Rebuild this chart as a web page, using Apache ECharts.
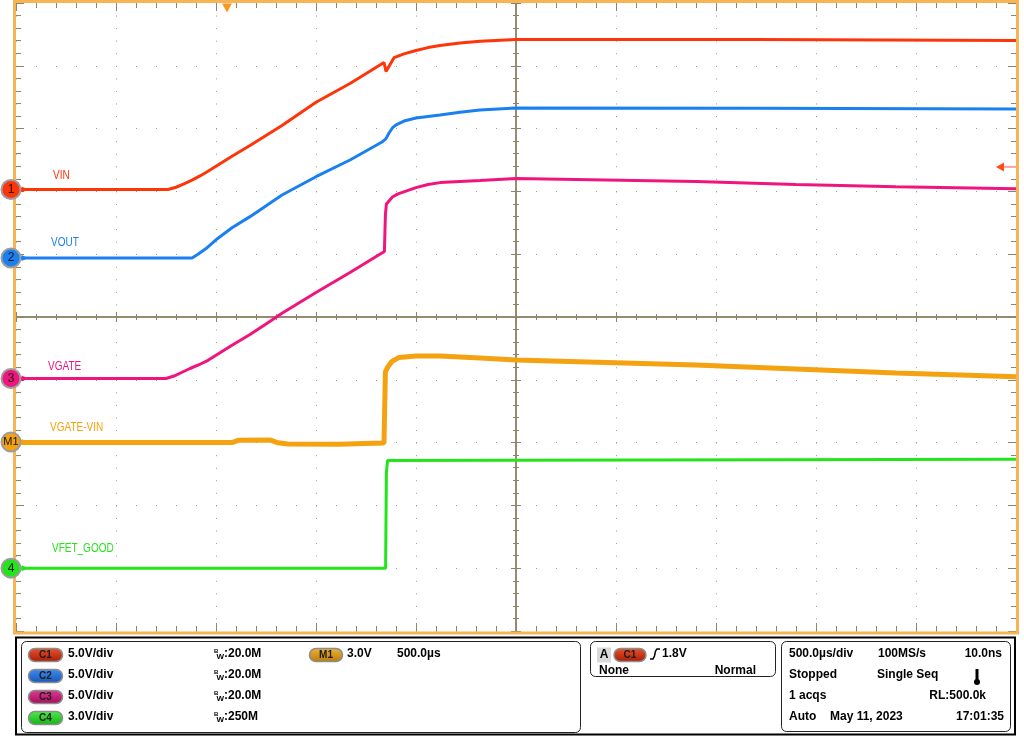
<!DOCTYPE html>
<html>
<head>
<meta charset="utf-8">
<title>Scope capture</title>
<script src="https://cdn.jsdelivr.net/npm/echarts@6/dist/echarts.min.js"></script>
<style>
  html, body { margin: 0; padding: 0; background: #fff; }
  #chart { width: 1024px; height: 736px; }
</style>
</head>
<body>
<div id="chart"></div>
<script>
// traces: [time in us from screen centre, volts]
const vinTrace = [
  [-2500, 0], [-1740, 0], [-1700, 0.18], [-1660, 0.45], [-1620, 0.75],
  [-1580, 1.08], [-1540, 1.45], [-1500, 1.85], [-1420, 2.65], [-1330, 3.5],
  [-1250, 4.3], [-1170, 5.09], [-1000, 6.95], [-830, 8.44], [-660, 10.11],
  [-650, 9.4], [-610, 10.5], [-560, 10.8], [-500, 11.07], [-440, 11.3],
  [-380, 11.46], [-280, 11.66], [-180, 11.8], [0, 11.94], [1200, 11.94], [2500, 11.86]
]
const voutTrace = [
  [-2500, 0], [-1620, 0], [-1590, 0.3], [-1550, 0.75], [-1500, 1.45],
  [-1420, 2.4], [-1330, 3.29], [-1170, 5.01], [-1000, 6.47], [-830, 7.8],
  [-670, 9.23], [-650, 9.5], [-635, 9.95], [-618, 10.35], [-600, 10.59],
  [-560, 10.9], [-500, 11.14], [-380, 11.38], [-280, 11.6], [-180, 11.78],
  [0, 11.94], [1200, 11.92], [2500, 11.86]
]
const vgateTrace = [
  [-2500, 0], [-1750, 0], [-1710, 0.2], [-1670, 0.5], [-1630, 0.8],
  [-1585, 1.1], [-1540, 1.45], [-1500, 1.85], [-1420, 2.65], [-1330, 3.5],
  [-1250, 4.35], [-1170, 5.2], [-1000, 6.85], [-830, 8.44], [-658, 10.11],
  [-653, 13.05], [-648, 13.9], [-618, 14.45], [-590, 14.7], [-500, 15.2],
  [-440, 15.45], [-380, 15.6], [-180, 15.76], [0, 15.92], [900, 15.68],
  [1400, 15.44], [1900, 15.28], [2500, 15.12]
]
const vgateVinTrace = [
  [-2500, -0.03], [-1420, -0.03], [-1390, 0.08], [-1230, 0.1], [-1190, -0.04],
  [-1140, -0.1], [-880, -0.11], [-760, -0.07], [-660, -0.05], [-653, 3.35],
  [-640, 3.6], [-620, 3.85], [-585, 4.04], [-500, 4.11], [-380, 4.11], [-180, 4.01],
  [0, 3.92], [900, 3.68], [1400, 3.49], [1900, 3.3], [2500, 3.11]
]
const vfetGoodTrace = [
  [-2500, 0], [-652, 0], [-648, 4.59], [-642, 5.15], [2500, 5.2]
]

// scope setup
const triggerTime = -1445   // us
const triggerLevel = 1.8    // V on C1

// scale: volts per division, offset: ground marker in divisions from centre
const channels = [
  { name: 'VIN', marker: '1', scale: 5, offset: 2.03, data: vinTrace, color: '#ff350a', width: 3 },
  { name: 'VOUT', marker: '2', scale: 5, offset: 0.94, data: voutTrace, color: '#1a80f0', width: 3 },
  { name: 'VGATE', marker: '3', scale: 5, offset: -0.98, data: vgateTrace, color: '#f0157d', width: 3 },
  { name: 'VGATE-VIN', marker: 'M1', scale: 3, offset: -1.99, data: vgateVinTrace, color: '#f5a210', width: 5 },
  { name: 'VFET_GOOD', marker: '4', scale: 3, offset: -4.0, data: vfetGoodTrace, color: '#22e61a', width: 3 }
]
// where the trace names sit on screen
const labelPos = [[53, 176], [51, 243], [48, 367], [50, 428], [52, 549]]

const tickColor = '#8f8468'
const dotColor = '#a39a82'
const FONT = '"Liberation Sans", Arial, sans-serif'

function toDiv(trace, scale, offset) {
  return trace.map(p => [p[0], offset + p[1] / scale])
}

function txt(x, y, s, o) {
  o = o || {}
  return {
    type: 'text', x: x, y: y, z: 20, silent: true,
    scaleY: o.scaleY || 1,
    style: {
      text: s, fill: o.color || '#000',
      font: (o.weight || 'bold') + ' ' + (o.size || 12) + 'px ' + FONT,
      textAlign: o.align || 'left', textVerticalAlign: 'middle',
      align: o.align || 'left', verticalAlign: 'middle'
    }
  }
}

function pill(x, y, w, h, c1, c2, label) {
  return [
    {
      type: 'rect', z: 20, silent: true,
      shape: { x: x, y: y, width: w, height: h, r: h / 2 },
      style: {
        fill: new echarts.graphic.LinearGradient(0, 0, 0, 1, [
          { offset: 0, color: c1 }, { offset: 1, color: c2 }
        ]),
        stroke: '#8d8d8d', lineWidth: 1.5
      }
    },
    txt(x + w / 2, y + h / 2 + 0.5, label, { size: 10, align: 'center', color: '#1c1c1c' })
  ]
}

function box(x, y, w, h) {
  return {
    type: 'rect', z: 20, silent: true,
    shape: { x: x, y: y, width: w, height: h, r: 5 },
    style: { fill: 'none', stroke: '#222', lineWidth: 1 }
  }
}

function bw(y, s) {
  return [txt(214, y - 3, 'B', { size: 6 }), txt(216.5, y + 3, 'W', { size: 8 }), txt(224, y, s)]
}

const chart = echarts.init(document.getElementById('chart'))

const xBase = { type: 'value', min: -2500, max: 2500, interval: 500, axisLabel: { show: false }, splitLine: { show: false } }
const yBase = { type: 'value', min: -5, max: 5, interval: 1, axisLabel: { show: false }, splitLine: { show: false } }
const edgeTick = { show: true, inside: true, length: 8, lineStyle: { color: tickColor, width: 1 } }
const edgeMinor = { show: true, splitNumber: 5, length: 5, lineStyle: { color: tickColor, width: 1 } }
const midTick = { show: true, inside: false, length: 5, lineStyle: { color: tickColor, width: 1 } }
const midMinor = { show: true, splitNumber: 5, length: 3, lineStyle: { color: tickColor, width: 1 } }
const midLine = { show: true, onZero: true, onZeroAxisIndex: 0, lineStyle: { color: tickColor, width: 1.5 } }

const series = channels.map((ch, i) => {
  const marks = [
    {
      coord: [-2500, ch.offset], symbol: 'circle', symbolSize: 19, symbolOffset: [-5, 0],
      itemStyle: { color: ch.color, borderColor: '#9c9c9c', borderWidth: 2 },
      label: { show: true, position: 'inside', formatter: ch.marker, color: '#151515', fontSize: ch.marker.length > 1 ? 11 : 12, fontFamily: FONT }
    },
    {
      coord: [-2500, ch.offset], symbol: 'triangle', symbolSize: [6, 7], symbolRotate: -90, symbolOffset: [9, 0],
      itemStyle: { color: ch.color }, label: { show: false }
    }
  ]
  if (i === 0) {
    const lvl = ch.offset + triggerLevel / ch.scale
    marks.push({
      coord: [2500, lvl], symbol: 'rect', symbolSize: [12, 2], symbolOffset: [-6, 0],
      itemStyle: { color: '#f8a898' }, label: { show: false }
    })
    marks.push({
      coord: [2500, lvl], symbol: 'triangle', symbolSize: [9, 8], symbolRotate: 90, symbolOffset: [-16, 0],
      itemStyle: { color: '#ff4a1a' }, label: { show: false }
    })
    marks.push({
      coord: [triggerTime, 5], symbol: 'triangle', symbolSize: [10, 9], symbolRotate: 180, symbolOffset: [0, 5],
      itemStyle: { color: '#f79a1c' }, label: { show: false }
    })
  }
  return {
    type: 'line', name: ch.name, xAxisIndex: 0, yAxisIndex: 0,
    data: toDiv(ch.data, ch.scale, ch.offset),
    symbol: 'none', silent: true,
    lineStyle: { color: ch.color, width: ch.width },
    itemStyle: { color: ch.color },
    markPoint: { silent: true, animation: false, data: marks }
  }
})

const graphics = []
// orange frame around the graticule
graphics.push({
  type: 'rect', z: 4, silent: true,
  shape: { x: 14.5, y: 1.5, width: 1003, height: 631.5 },
  style: { fill: 'none', stroke: '#f6b455', lineWidth: 3 }
})
channels.forEach((ch, i) => {
  graphics.push(txt(labelPos[i][0], labelPos[i][1], ch.name, { weight: 'normal', size: 10, color: ch.color, scaleY: 1.2 }))
})

// readout panel
graphics.push({
  type: 'rect', z: 19, silent: true,
  shape: { x: 16, y: 637.5, width: 999, height: 97 },
  style: { fill: '#fff', stroke: '#000', lineWidth: 2 }
})
graphics.push(box(21.5, 641.5, 559, 91), box(590.5, 641.5, 185, 35), box(781.5, 641.5, 229, 90))

graphics.push(...pill(28.5, 648.5, 34, 13, '#e8552e', '#a81a04', 'C1'))
graphics.push(...pill(28.5, 669.5, 34, 13, '#3f8ef0', '#1556b8', 'C2'))
graphics.push(...pill(28.5, 690.5, 34, 13, '#e03a92', '#a50c5c', 'C3'))
graphics.push(...pill(28.5, 711.5, 34, 13, '#4cf04a', '#14b014', 'C4'))
graphics.push(txt(68, 654, '5.0V/div'), txt(68, 675, '5.0V/div'), txt(68, 696, '5.0V/div'), txt(68, 717, '3.0V/div'))
graphics.push(...bw(654, ':20.0M'), ...bw(675, ':20.0M'), ...bw(696, ':20.0M'), ...bw(717, ':250M'))
graphics.push(...pill(309.5, 648.5, 33, 13, '#f0b43a', '#b87a06', 'M1'))
graphics.push(txt(347, 654, '3.0V'), txt(397, 654, '500.0µs'))

// trigger box
graphics.push({ type: 'rect', z: 20, silent: true, shape: { x: 597, y: 647.5, width: 14, height: 15 }, style: { fill: '#d9d9d9' } })
graphics.push(txt(604, 655, 'A', { align: 'center' }))
graphics.push(...pill(614, 648.5, 32, 13, '#e8552e', '#a81a04', 'C1'))
graphics.push({
  type: 'polyline', z: 20, silent: true,
  shape: { points: [[650, 659], [653, 659], [654.5, 656], [655.5, 651], [657, 649], [660, 649]] },
  style: { stroke: '#000', lineWidth: 1.5, fill: 'none' }
})
graphics.push(txt(662, 654, '1.8V'), txt(599, 671, 'None'), txt(756, 671, 'Normal', { align: 'right' }))

// acquisition box
graphics.push(txt(789, 654, '500.0µs/div'), txt(878, 654, '100MS/s'), txt(1002, 654, '10.0ns', { align: 'right' }))
graphics.push(txt(789, 675, 'Stopped'), txt(877, 675, 'Single Seq'))
graphics.push({ type: 'rect', z: 20, silent: true, shape: { x: 975.5, y: 669, width: 3, height: 12 }, style: { fill: '#000' } })
graphics.push({ type: 'circle', z: 20, silent: true, shape: { cx: 977, cy: 682, r: 3 }, style: { fill: '#000' } })
graphics.push(txt(789, 696, '1 acqs'), txt(986, 696, 'RL:500.0k', { align: 'right' }))
graphics.push(txt(789, 717, 'Auto'), txt(830, 717, 'May 11, 2023'), txt(1004, 717, '17:01:35', { align: 'right' }))

chart.setOption({
  animation: false,
  backgroundColor: '#fff',
  grid: { left: 16, right: 8, top: 3, bottom: 105, show: false },
  xAxis: [
    Object.assign({}, xBase, {
      position: 'bottom', axisLine: { show: false, onZero: false }, axisTick: edgeTick, minorTick: edgeMinor,
      splitLine: { show: true, lineStyle: { color: dotColor, width: 1, type: [1, 11.56] } }
    }),
    Object.assign({}, xBase, { position: 'top', axisLine: { show: false, onZero: false }, axisTick: edgeTick, minorTick: edgeMinor }),
    Object.assign({}, xBase, { position: 'bottom', axisLine: midLine, axisTick: midTick, minorTick: midMinor }),
    Object.assign({}, xBase, { position: 'top', axisLine: midLine, axisTick: midTick, minorTick: midMinor })
  ],
  yAxis: [
    Object.assign({}, yBase, {
      position: 'left', axisLine: { show: false, onZero: false }, axisTick: edgeTick, minorTick: edgeMinor,
      splitLine: { show: true, lineStyle: { color: dotColor, width: 1, type: [1, 19] } }
    }),
    Object.assign({}, yBase, { position: 'right', axisLine: { show: false, onZero: false }, axisTick: edgeTick, minorTick: edgeMinor }),
    Object.assign({}, yBase, { position: 'left', axisLine: midLine, axisTick: midTick, minorTick: midMinor }),
    Object.assign({}, yBase, { position: 'right', axisLine: midLine, axisTick: midTick, minorTick: midMinor })
  ],
  series: series,
  graphic: graphics
})
</script>
</body>
</html>
